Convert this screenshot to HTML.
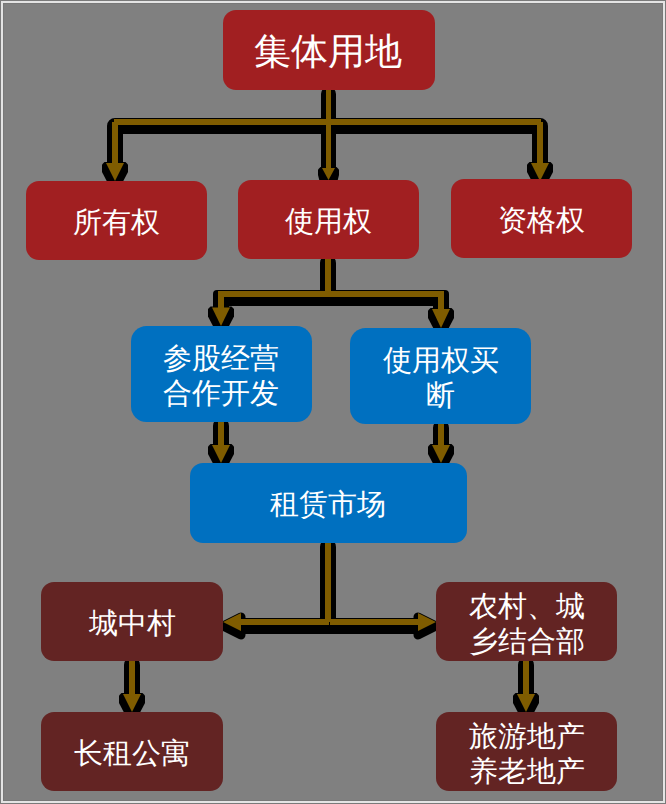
<!DOCTYPE html>
<html>
<head>
<meta charset="utf-8">
<style>
html,body{margin:0;padding:0;}
body{width:666px;height:804px;background:#7a7a7a;position:relative;overflow:hidden;font-family:"Liberation Sans",sans-serif;}
.frame{position:absolute;left:1px;top:1px;width:660px;height:798px;border:2px solid #e4e4e4;background:#808080;}
.inner{position:absolute;left:3px;top:3px;width:660px;height:798px;border:1px solid #787878;box-sizing:border-box;}
svg{position:absolute;left:0;top:0;}
.b{position:absolute;box-sizing:border-box;padding-top:4px;display:flex;align-items:center;justify-content:center;text-align:center;color:#fff;font-size:29px;line-height:35px;font-weight:300;border-radius:13px;}
.r{background:#a11f21;}
.u{background:#0070c0;border-radius:15.5px;}
.m{background:#632423;}
</style>
</head>
<body>
<div class="frame"></div>
<div class="inner"></div>
<svg width="666" height="804" viewBox="0 0 666 804">
  <g fill="none" stroke="#000" stroke-linejoin="round" stroke-linecap="round" transform="translate(0,4)">
    <path stroke-width="16" d="M328.5 122H115V170M328.5 122H540V170"/>
    <path stroke-width="15" d="M328.5 90V172"/>
    <path stroke-width="16" stroke-linejoin="miter" d="M328 259V294H221V315M328 294H441V315"/>
    <path stroke-width="16" d="M221 422V452M441 424V452"/>
    <path stroke-width="16" d="M328 543V622H235M328 622H424"/>
    <path stroke-width="16" d="M132 661V700M526 661V700"/>
  </g>
  <path fill="#808080" d="M213 290L213 294A4 4 0 0 1 217 290ZM449 290L445 290A4 4 0 0 1 449 294Z"/>
  <g fill="#000">
    <polygon points="104.5,162 125.5,162 128,164.5 128,172 123.3,181 120,187 110,187 106.7,181 102,172 102,164.5"/>
    <polygon points="529.5,162 550.5,162 553,164.5 553,172 548.3,181 545,187 535,187 531.7,181 527,172 527,164.5"/>
    <polygon points="320.5,167 336.5,167 339,169.5 339,175 337.5,181 319.5,181 318,175 318,169.5"/>
    <polygon points="210.5,306.5 231.5,306.5 234,309 234,316.5 229.3,325.5 226,331.5 216,331.5 212.7,325.5 208,316.5 208,309"/>
    <polygon points="430.5,308 451.5,308 454,310.5 454,318 449.3,327 446,333 436,333 432.7,327 428,318 428,310.5"/>
    <polygon points="210.5,444 231.5,444 234,446.5 234,454 229.3,463 226,469 216,469 212.7,463 208,454 208,446.5"/>
    <polygon points="430.5,444 451.5,444 454,446.5 454,454 449.3,463 446,469 436,469 432.7,463 428,454 428,446.5"/>
    <polygon points="121.5,693 142.5,693 145,695.5 145,703 140.3,712 137,718 127,718 123.7,712 119,703 119,695.5"/>
    <polygon points="515.5,693 536.5,693 539,695.5 539,703 534.3,712 531,718 521,718 517.7,712 513,703 513,695.5"/>
  </g>
  <g fill="#000" stroke="#000" stroke-width="9" stroke-linejoin="round" transform="translate(0,4)">
    <path d="M241 613V631L223 622Z"/>
    <path d="M418 613V631L436 622Z"/>
  </g>
  <g fill="none" stroke="#7f5c00" stroke-linejoin="miter">
    <path stroke-width="6" d="M328.5 122H115V170M328.5 122H540V170"/>
    <path stroke-width="5" d="M328.5 90V172"/>
    <path stroke-width="6" d="M328 259V294H221V315M328 294H441V315"/>
    <path stroke-width="6" d="M221 422V452M441 424V452"/>
    <path stroke-width="6" d="M328 543V622H235M328 622H424"/>
    <path stroke-width="6" d="M132 661V700M526 661V700"/>
  </g>
  <g fill="#7f5c00">
    <path d="M106 163H124L115 181Z"/>
    <path d="M531 163H549L540 181Z"/>
    <path d="M322 168H335L328.5 180Z"/>
    <path d="M212 307.5H230L221 326Z"/>
    <path d="M432 309H450L441 328Z"/>
    <path d="M212 445H230L221 463Z"/>
    <path d="M432 445H450L441 463Z"/>
    <path d="M241 613V631L223 622Z"/>
    <path d="M418 613V631L436 622Z"/>
    <path d="M123 694H141L132 712Z"/>
    <path d="M517 694H535L526 712Z"/>
  </g>
  <rect x="329" y="622" width="1" height="3" fill="#000"/>
  <rect x="112" y="119" width="2" height="3" fill="#000"/>
  <rect x="541" y="119" width="2" height="3" fill="#000"/>
</svg>
<div class="b r" style="left:223px;top:10px;width:212px;height:80px;font-size:37px;padding-top:3px;padding-right:2px;">集体用地</div>
<div class="b r" style="left:26px;top:181px;width:181px;height:79px;padding-top:3px;">所有权</div>
<div class="b r" style="left:238px;top:180px;width:181px;height:79px;padding-top:3px;">使用权</div>
<div class="b r" style="left:451px;top:179px;width:181px;height:79px;padding-top:3px;">资格权</div>
<div class="b u" style="left:131px;top:326px;width:181px;height:96px;padding-right:2px;">参股经营<br>合作开发</div>
<div class="b u" style="left:350px;top:328px;width:181px;height:96px;">使用权买<br>断</div>
<div class="b u" style="left:190px;top:463px;width:277px;height:80px;border-radius:13px;padding-top:3px;padding-right:2px;">租赁市场</div>
<div class="b m" style="left:41px;top:582px;width:182px;height:79px;">城中村</div>
<div class="b m" style="left:436px;top:582px;width:181px;height:79px;">农村、城<br>乡结合部</div>
<div class="b m" style="left:41px;top:712px;width:182px;height:79px;">长租公寓</div>
<div class="b m" style="left:436px;top:712px;width:181px;height:79px;">旅游地产<br>养老地产</div>
</body>
</html>
